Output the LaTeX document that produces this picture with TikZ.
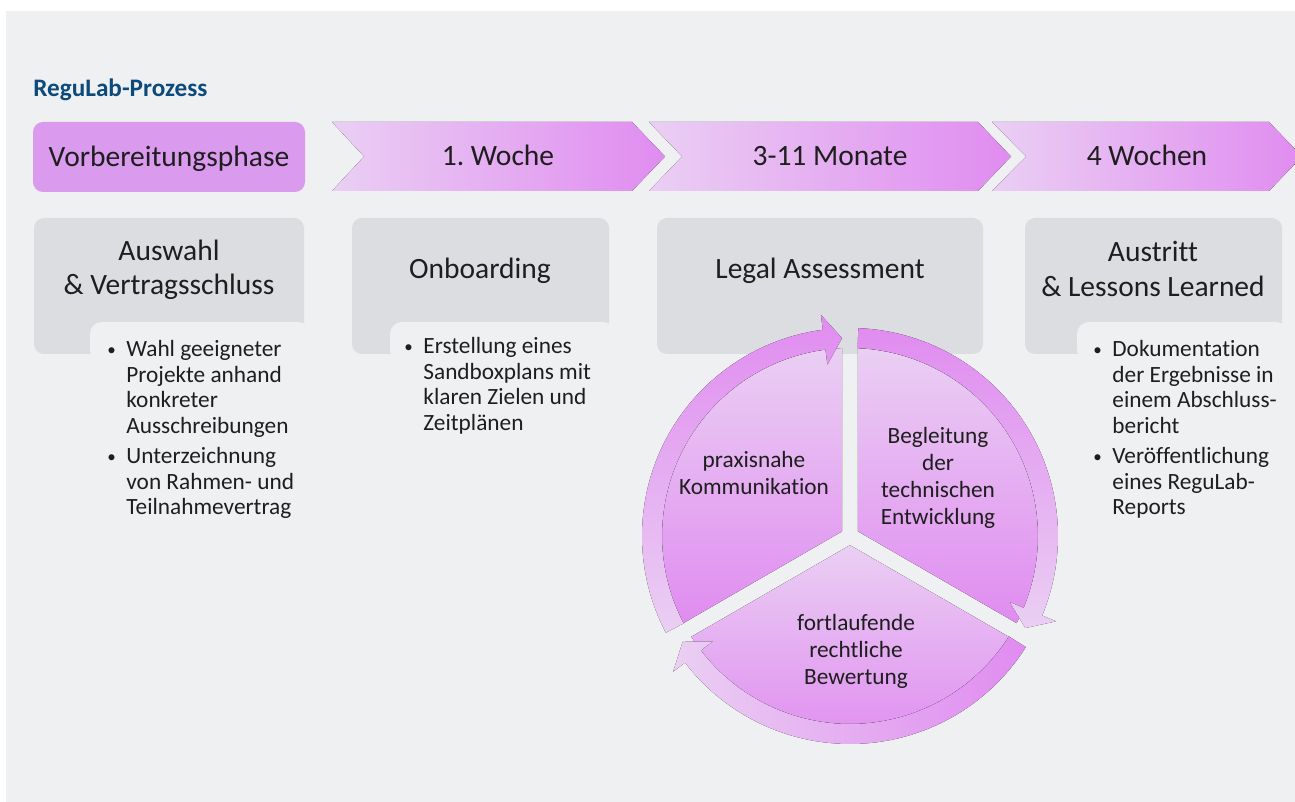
\documentclass[tikz,border=0pt]{standalone}
\usepackage{fontspec}
\setmainfont{Carlito}[Ligatures={NoCommon}]
\usetikzlibrary{calc}
\frenchspacing

\definecolor{panelbg}{HTML}{EFF0F2}
\definecolor{boxgray}{HTML}{DCDDE0}
\definecolor{lilac}{HTML}{DA9AEE}
\definecolor{violetA}{HTML}{E08CF0}
\definecolor{violetB}{HTML}{EACFF3}
\definecolor{titleblue}{HTML}{0D4A7C}
\definecolor{ink}{HTML}{1E1E1E}

% small list dot
\newcommand{\listdot}{\raisebox{0.6pt}{\fontsize{8.5}{8.5}\selectfont\textbullet}}

\begin{document}
\begin{tikzpicture}[x=0.5pt, y=0.5pt,
    phasetext/.style={font=\fontsize{14.75}{17.2}\selectfont, text=ink, align=center, inner sep=0pt},
    bullettext/.style={font=\fontsize{11.65}{12.75}\selectfont, text=ink, inner sep=0pt, anchor=base west},
    cycletext/.style={font=\fontsize{11.65}{13.5}\selectfont, text=ink, align=center, inner sep=0pt},
    graybox/.style={fill=boxgray, rounded corners=5pt},
    cutout/.style={fill=panelbg, rounded corners=6pt},
    chevron/.style={left color=violetB, right color=violetA},
    wedge/.style={top color=violetB, bottom color=violetA}]

  % page and panel
  \useasboundingbox (0,0) rectangle (1295,802);
  \fill[white] (0,0) rectangle (1295,802);
  \fill[panelbg] (6,0) rectangle (1295,791);

  \node[font=\fontsize{12.6}{14}\selectfont\bfseries, text=titleblue, anchor=base west, inner sep=0pt]
    (title) at (33,705) {ReguLab-Prozess};

  % phase bar
  \fill[lilac, rounded corners=5pt] (33,610) rectangle (305,680);
  \node[phasetext, anchor=base] (prep) at (169,635) {Vorbereitungsphase};

  \fill[chevron] (332,680) -- (632,680) -- (665,645.5) -- (632,611) -- (332,611) -- (364,645.5) -- cycle;
  \node[phasetext, anchor=base] (week) at (498,636.5) {1. Woche};
  \fill[chevron] (649,680) -- (978,680) -- (1011,645.5) -- (978,611) -- (649,611) -- (682,645.5) -- cycle;
  \node[phasetext, anchor=base] (months) at (830,636.5) {3-11 Monate};
  \fill[chevron] (992,680) -- (1269,680) -- (1302,645.5) -- (1269,611) -- (992,611) -- (1026,645.5) -- cycle;
  \node[phasetext, anchor=base] (weeks) at (1147,636.5) {4 Wochen};

  % step boxes
  \fill[graybox] (34,448) rectangle (304,584);
  \fill[cutout] (90,440) rectangle (310,480);
  \fill[graybox] (352,448) rectangle (609,584);
  \fill[cutout] (390,440) rectangle (615,480);
  \fill[graybox] (657,448) rectangle (983,584);
  \fill[graybox] (1025,448) rectangle (1282,584);
  \fill[cutout] (1077,440) rectangle (1288,480);

  \node[phasetext] (select) at (169,532) {Auswahl\\\& Vertragsschluss};
  \node[phasetext, anchor=base] (onboard) at (480,523) {Onboarding};
  \node[phasetext, anchor=base] (legal) at (820,523) {Legal Assessment};
  \node[phasetext] (exit) at (1153,533) {Austritt\\\& Lessons Learned};

  \node[bullettext] (selectlist) at (107,445) {\begin{tabular}[t]{@{}p{9.5pt}@{}l@{}}
    \listdot & Wahl geeigneter\\ & Projekte anhand\\ & konkreter\\ & Ausschreibungen\\[2.5pt]
    \listdot & Unterzeichnung\\ & von Rahmen- und\\ & Teilnahmevertrag
  \end{tabular}};
  \node[bullettext] (onboardlist) at (404,448) {\begin{tabular}[t]{@{}p{9.5pt}@{}l@{}}
    \listdot & Erstellung eines\\ & Sandboxplans mit\\ & klaren Zielen und\\ & Zeitplänen
  \end{tabular}};
  \node[bullettext] (exitlist) at (1093,445) {\begin{tabular}[t]{@{}p{9.5pt}@{}l@{}}
    \listdot & Dokumentation\\ & der Ergebnisse in\\ & einem Abschluss-\\ & bericht\\[2.5pt]
    \listdot & Veröffentlichung\\ & eines ReguLab-\\ & Reports
  \end{tabular}};

  % assessment cycle
  \coordinate (C) at (850,266);
  \fill[wedge] ($(C)+(150:9.2)$) -- ($(C)+(92.4:188)$) arc[start angle=92.4, end angle=207.6, radius=188] -- cycle;
  \fill[wedge] ($(C)+(30:9.2)$) -- ($(C)+(-27.6:188)$) arc[start angle=-27.6, end angle=87.6, radius=188] -- cycle;
  \fill[wedge] ($(C)+(270:9.2)$) -- ($(C)+(212.4:188)$) arc[start angle=212.4, end angle=327.6, radius=188] -- cycle;

  \fill[top color=violetA, bottom color=violetB]
    ($(C)+(207.7:208)$) arc[start angle=207.7, end angle=97.5, radius=208]
    -- ($(C)+(97.5:223)$) -- ($(C)+(92.3:198)$) -- ($(C)+(97.5:173)$) -- ($(C)+(97.5:188)$)
    arc[start angle=97.5, end angle=207.7, radius=188] -- cycle;
  \fill[top color=violetA, bottom color=violetB]
    ($(C)+(87.7:208)$) arc[start angle=87.7, end angle=-22.5, radius=208]
    -- ($(C)+(-22.5:223)$) -- ($(C)+(-27.7:198)$) -- ($(C)+(-22.5:173)$) -- ($(C)+(-22.5:188)$)
    arc[start angle=-22.5, end angle=87.7, radius=188] -- cycle;
  \fill[left color=violetB, right color=violetA]
    ($(C)+(-32.3:208)$) arc[start angle=-32.3, end angle=-142.5, radius=208]
    -- ($(C)+(-142.5:223)$) -- ($(C)+(-147.7:198)$) -- ($(C)+(-142.5:173)$) -- ($(C)+(-142.5:188)$)
    arc[start angle=-142.5, end angle=-32.3, radius=188] -- cycle;

  \node[cycletext] (talk) at (754,329) {praxisnahe\\Kommunikation};
  \node[cycletext] (tech) at (938,324.5) {Begleitung\\der\\technischen\\Entwicklung};
  \node[cycletext] (law) at (856,150.5) {fortlaufende\\rechtliche\\Bewertung};
\end{tikzpicture}
\end{document}
